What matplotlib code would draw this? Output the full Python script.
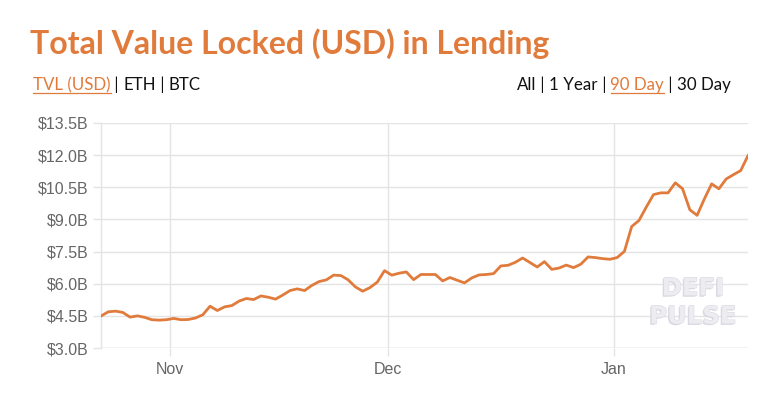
import matplotlib
matplotlib.use('Agg')
import matplotlib.pyplot as plt
import matplotlib.dates as mdates
import matplotlib.ticker as mticker
import matplotlib.patheffects as pe
from matplotlib.lines import Line2D
import pandas as pd

# ---------------- data ----------------
title = "Total Value Locked (USD) in Lending"
start_date = "2020-10-22 12:00"
tvl_billion = [
    4.49, 4.69, 4.72, 4.66, 4.44, 4.50, 4.43, 4.32, 4.30, 4.32,
    4.38, 4.32, 4.33, 4.40, 4.55, 4.95, 4.75, 4.92, 4.98, 5.19,
    5.31, 5.26, 5.43, 5.37, 5.28, 5.47, 5.68, 5.76, 5.68, 5.92,
    6.10, 6.18, 6.40, 6.38, 6.18, 5.85, 5.65, 5.82, 6.07, 6.61,
    6.40, 6.49, 6.55, 6.19, 6.43, 6.43, 6.43, 6.13, 6.29, 6.16,
    6.04, 6.27, 6.41, 6.43, 6.47, 6.83, 6.86, 7.00, 7.20, 6.99,
    6.78, 7.03, 6.67, 6.73, 6.87, 6.75, 6.91, 7.25, 7.22, 7.17,
    7.14, 7.22, 7.51, 8.67, 8.95, 9.57, 10.16, 10.24, 10.24, 10.71,
    10.43, 9.45, 9.19, 9.96, 10.66, 10.43, 10.89, 11.09, 11.28, 11.98,
]
y_ticks = [3.0, 4.5, 6.0, 7.5, 9.0, 10.5, 12.0, 13.5]
x_tick_dates = ["2020-11-01", "2020-12-01", "2021-01-01"]
x_tick_labels = ["Nov", "Dec", "Jan"]
unit_links = ["TVL (USD)", "ETH", "BTC"]
unit_active = "TVL (USD)"
range_links = ["All", "1 Year", "90 Day", "30 Day"]
range_active = "90 Day"
watermark = ["DEFI", "PULSE"]

# ---------------- style ----------------
ORANGE = '#E07B3C'
GRID = '#e4e4e4'
TICKTXT = '#666666'
W, H = 775, 393

dates = pd.date_range(start_date, periods=len(tvl_billion), freq='D')

fig = plt.figure(figsize=(W / 100, H / 100), dpi=100)
fig.patch.set_facecolor('white')


def fx(px):
    return px / W


def fy(py):
    return 1 - py / H


ax = fig.add_axes([fx(101), fy(348), fx(748) - fx(101), fy(123) - fy(348)])
ax.plot(dates, tvl_billion, color=ORANGE, lw=2.0, solid_joinstyle='round', zorder=3)

ax.set_xlim(dates[0], dates[-1])
ax.set_ylim(y_ticks[0], y_ticks[-1])
ax.set_yticks(y_ticks)
ax.yaxis.set_major_formatter(mticker.FuncFormatter(lambda v, p: f"${v:.1f}B"))
ax.set_xticks(pd.to_datetime(x_tick_dates))
ax.set_xticklabels(x_tick_labels)

for s in ['top', 'right', 'bottom']:
    ax.spines[s].set_visible(False)
ax.spines['left'].set_color(GRID)
ax.spines['left'].set_linewidth(1.0)

ax.grid(True, color=GRID, lw=1.0, zorder=0)
ax.set_axisbelow(True)
ax.tick_params(axis='both', colors=GRID, length=6, width=1.0,
               labelcolor=TICKTXT, labelsize=11.5)
ax.tick_params(axis='y', pad=3)
ax.tick_params(axis='x', pad=4)
for lab in ax.get_xticklabels() + ax.get_yticklabels():
    lab.set_fontfamily('Liberation Sans')
ax.axhline(y_ticks[0], color='#d8d8d8', lw=1.0, zorder=1)

# watermark
for i, word in enumerate(watermark):
    ax.text(0.915, 0.265 - i * 0.125, word, transform=ax.transAxes,
            ha='center', va='center', fontsize=17.5, fontweight='bold',
            family='DejaVu Sans', color='#ececf1', zorder=2,
            path_effects=[pe.withSimplePatchShadow(offset=(-1.0, -1.0), shadow_rgbFace='#d9d9e2', alpha=1.0),
                          pe.Stroke(linewidth=0.8, foreground='#dadae3'), pe.Normal()])

# title
fig.text(fx(30), fy(54), title, fontsize=23, fontweight='bold', family='Lato',
         color=ORANGE, ha='left', va='baseline')

renderer = fig.canvas.get_renderer()


def row(items, active, x_px, y_px, align='left', size=12.2):
    pieces = []
    for i, it in enumerate(items):
        if i > 0:
            pieces.append((" | ", False))
        pieces.append((it, it == active))
    widths = []
    for txt, _ in pieces:
        t = fig.text(0, 0, txt, fontsize=size, family='Lato')
        bb = t.get_window_extent(renderer)
        widths.append(bb.width)
        t.remove()
    total = sum(widths)
    x = x_px if align == 'left' else x_px - total
    for (txt, act), w in zip(pieces, widths):
        fig.text(fx(x), fy(y_px), txt, fontsize=size, family='Lato',
                 color=ORANGE if act else '#111111', ha='left', va='baseline')
        if act:
            fig.add_artist(Line2D([fx(x), fx(x + w)], [fy(y_px + 3), fy(y_px + 3)],
                                  color=ORANGE, lw=0.9, transform=fig.transFigure))
        x += w


row(unit_links, unit_active, 33, 90, 'left')
row(range_links, range_active, 731, 90, 'right')

fig.savefig('out.png', dpi=100, facecolor='white')
